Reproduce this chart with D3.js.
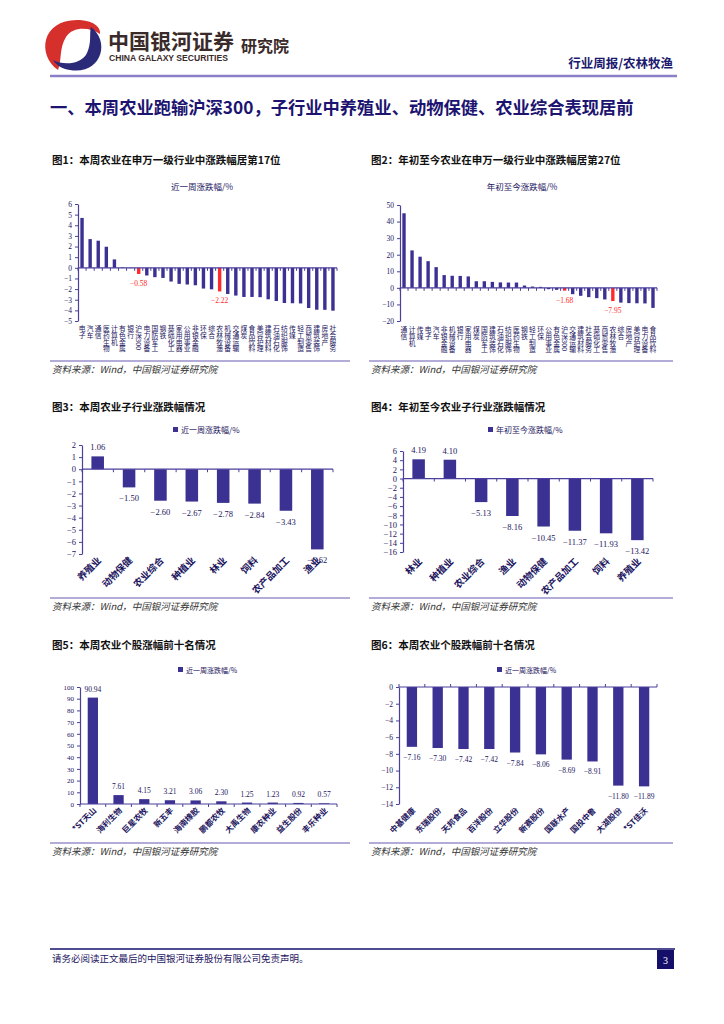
<!DOCTYPE html>
<html>
<head>
<meta charset="utf-8">
<script src="https://cdn.jsdelivr.net/npm/d3@7"></script>
<style>
  body { margin: 0; background: #fff; }
  svg { display: block; }
</style>
</head>
<body>
<svg width="724" height="1024"></svg>
<script>
// ---- data ----
// 图1 本周申万一级行业涨跌幅
const weekInd = ["电子","汽车","通信","医药生物","计算机","有色金属","银行","沪深300","电力设备","国防军工","钢铁","基础化工","家用电器","公用事业","非银金融","环保","综合","农林牧渔","机械设备","交通运输","煤炭","食品饮料","美容护理","建筑材料","石油石化","纺织服饰","传媒","轻工制造","商贸零售","建筑装饰","房地产","社会服务"];
const weekIndVal = [4.69,2.70,2.55,1.98,0.79,0.05,-0.03,-0.58,-0.72,-0.88,-0.95,-1.29,-1.51,-1.57,-1.64,-1.95,-2.02,-2.22,-2.46,-2.61,-2.74,-2.74,-2.76,-2.96,-3.12,-3.31,-3.33,-3.35,-3.78,-3.94,-3.95,-4.03];

// 图2 年初至今申万一级行业涨跌幅
const ytdInd = ["通信","计算机","传媒","电子","汽车","非银金融","机械设备","银行","家用电器","煤炭","国防军工","建筑装饰","石油石化","纺织服饰","医药生物","钢铁","轻工制造","环保","公用事业","有色金属","沪深300","交通运输","建筑材料","社会服务","基础化工","商贸零售","农林牧渔","综合","房地产","美容护理","电力设备","食品饮料"];
const ytdIndVal = [45.0,22.6,18.8,16.1,12.5,7.7,7.3,7.2,6.9,4.0,4.0,3.6,3.3,3.2,3.2,1.4,0.8,0.6,-0.8,-1.2,-1.68,-3.8,-4.8,-5.6,-6.2,-7.0,-7.95,-8.9,-9.2,-9.3,-9.4,-12.1];

const highlight = ["沪深300","农林牧渔"];

// 图3 / 图4 农业子行业
const subWeek = ["养殖业","动物保健","农业综合","种植业","林业","饲料","农产品加工","渔业"];
const subWeekVal = [1.06,-1.50,-2.60,-2.67,-2.78,-2.84,-3.43,-6.62];
const subYtd = ["林业","种植业","农业综合","渔业","动物保健","农产品加工","饲料","养殖业"];
const subYtdVal = [4.19,4.10,-5.13,-8.16,-10.45,-11.37,-11.93,-13.42];

// 图5 / 图6 个股涨跌幅前十
const upStocks = ["*ST天山","海利生物","巨星农牧","新五丰","海南橡胶","鹏都农牧","大禹生物","康农种业","益生股份","丰乐种业"];
const upVal = [90.94,7.61,4.15,3.21,3.06,2.30,1.25,1.23,0.92,0.57];
const downStocks = ["中基健康","东瑞股份","天邦食品","百洋股份","立华股份","新赛股份","国联水产","国投中鲁","大湖股份","*ST佳沃"];
const downVal = [-7.16,-7.30,-7.42,-7.42,-7.84,-8.06,-8.69,-8.91,-11.80,-11.89];

// ---- style ----
const BAR = "#3b3192", RED = "#ff2a2a", AX = "#4a3f9c", TXT = "#1c1560";
const CJK = "'Noto Sans CJK SC', sans-serif";
const NUM = "'Liberation Serif', 'DejaVu Serif', serif";
const minus = v => (v < 0 ? "\u2212" + Math.abs(v) : "" + v);
const minus2 = v => (v < 0 ? "\u2212" + Math.abs(v).toFixed(2) : v.toFixed(2));

const svg = d3.select("svg");

// ---- header ----
const logo = svg.append("g");
logo.append("path")
  .attr("d", "M58,70 C36,54 42,18 80,20 C95,21 101,28 100,34 C90,27 73,26 66,37 C59,48 62,60 58,70 Z")
  .attr("fill", "#d6302c");
logo.append("path")
  .attr("d", "M91,27 C111,42 101,75 70,70 C62,69 56,65 53,60 C64,66 82,64 87,53 C92,42 89,34 91,27 Z")
  .attr("fill", "#2b2a78");
logo.append("text").attr("x", 108).attr("y", 49)
  .style("font-family", CJK).style("font-weight", 700).style("font-size", "21px")
  .attr("fill", "#3a2a2a").text("中国银河证券");
logo.append("text").attr("x", 109).attr("y", 61)
  .style("font-family", "'Liberation Sans', Arial, sans-serif").style("font-weight", 700).style("font-size", "8.6px")
  .attr("fill", "#3a2a2a").text("CHINA GALAXY SECURITIES");
logo.append("text").attr("x", 241).attr("y", 52)
  .style("font-family", CJK).style("font-weight", 700).style("font-size", "16px")
  .attr("fill", "#3a2a2a").text("研究院");

svg.append("text").attr("x", 673).attr("y", 68).attr("text-anchor", "end")
  .style("font-family", CJK).style("font-weight", 700).style("font-size", "12.5px")
  .attr("fill", "#1c1a6e").text("行业周报/农林牧渔");
svg.append("line").attr("x1", 50).attr("x2", 677).attr("y1", 76).attr("y2", 76)
  .attr("stroke", "#8a80c8").attr("stroke-width", 2.5);

svg.append("text").attr("x", 50).attr("y", 114)
  .style("font-family", CJK).style("font-weight", 700).style("font-size", "17.3px")
  .attr("fill", "#1c1470")
  .text("一、本周农业跑输沪深300，子行业中养殖业、动物保健、农业综合表现居前");

// ---- captions and sources ----
function caption(x, y, t) {
  svg.append("text").attr("x", x).attr("y", y)
    .style("font-family", CJK).style("font-weight", 700).style("font-size", "10.5px")
    .attr("fill", "#111").text(t);
}
function source(x, y, w) {
  svg.append("line").attr("x1", x - 2).attr("x2", x - 2 + w).attr("y1", y - 8).attr("y2", y - 8)
    .attr("stroke", "#b3acd9").attr("stroke-width", 2);
  svg.append("text").attr("x", x).attr("y", y + 4)
    .style("font-family", CJK).style("font-style", "italic").style("font-size", "9.5px")
    .attr("fill", "#333").text("资料来源：Wind，中国银河证券研究院");
}
caption(52, 164, "图1：本周农业在申万一级行业中涨跌幅居第17位");
caption(371, 164, "图2：年初至今农业在申万一级行业中涨跌幅居第27位");
caption(52, 411, "图3：本周农业子行业涨跌幅情况");
caption(371, 411, "图4：年初至今农业子行业涨跌幅情况");
caption(52, 649, "图5：本周农业个股涨幅前十名情况");
caption(371, 649, "图6：本周农业个股跌幅前十名情况");
source(52, 369, 300);
source(371, 369, 304);
source(52, 606, 300);
source(371, 606, 304);
source(52, 851, 300);
source(371, 851, 304);

// ---- bar chart helper ----
function barChart(c) {
  const g = svg.append("g");
  const x = d3.scaleBand().domain(c.cats).range(c.xr)
    .paddingInner(c.pad).paddingOuter(c.pad / 2);
  const y = d3.scaleLinear().domain(c.dom).range(c.yr);

  g.append("g").attr("transform", `translate(${c.xr[0]},0)`)
    .call(d3.axisLeft(y).tickValues(c.ticks).tickSize(3).tickSizeOuter(0).tickPadding(3).tickFormat(minus))
    .call(a => {
      a.select(".domain").attr("stroke", AX).attr("stroke-width", 1.2);
      a.selectAll("line").attr("stroke", AX);
      a.selectAll("text").attr("fill", TXT).style("font-family", NUM).style("font-size", c.tickFont + "px");
    });

  g.selectAll("rect.bar").data(c.vals).join("rect").attr("class", "bar")
    .attr("x", (d, i) => x(c.cats[i]))
    .attr("width", x.bandwidth())
    .attr("y", d => y(Math.max(0, d)))
    .attr("height", d => Math.abs(y(d) - y(0)))
    .attr("fill", (d, i) => (c.hi && c.hi.includes(c.cats[i]) ? RED : BAR));

  // category axis along zero
  const y0 = y(0);
  g.append("line").attr("x1", c.xr[0]).attr("x2", c.xr[1]).attr("y1", y0).attr("y2", y0)
    .attr("stroke", AX).attr("stroke-width", 1.2);
  const bounds = d3.range(c.cats.length + 1).map(i => c.xr[0] + i * x.step());
  g.selectAll("line.tk").data(bounds).join("line").attr("class", "tk")
    .attr("x1", d => d).attr("x2", d => d)
    .attr("y1", y0).attr("y2", y0 + (c.tickDir || 3))
    .attr("stroke", AX);

  // value labels
  const lab = c.cats.map((k, i) => ({ k, v: c.vals[i] }))
    .filter(d => !c.labelOnly || c.labelOnly.includes(d.k));
  if (c.valueLabels) {
    g.selectAll("text.val").data(lab).join("text").attr("class", "val")
      .attr("x", d => x(d.k) + x.bandwidth() / 2)
      .attr("y", d => (d.v >= 0 ? y(d.v) - c.above : y(d.v) + c.below))
      .attr("text-anchor", "middle")
      .attr("fill", d => (c.labelColor ? c.labelColor : TXT))
      .style("font-family", NUM).style("font-size", c.valFont + "px")
      .text(d => minus2(d.v));
  }

  // category labels
  if (c.vertical) {
    g.selectAll("text.cat").data(c.cats).join("text").attr("class", "cat")
      .attr("x", d => x(d) + x.bandwidth() / 2)
      .attr("y", c.labelY)
      .style("writing-mode", "vertical-rl")
      .attr("fill", TXT)
      .style("font-family", CJK).style("font-size", c.catFont + "px")
      .text(d => d);
  } else {
    g.selectAll("text.cat").data(c.cats).join("text").attr("class", "cat")
      .attr("transform", d => `translate(${x(d) + x.bandwidth() / 2 + c.labelDx},${c.labelY}) rotate(-45)`)
      .attr("text-anchor", "end")
      .attr("fill", TXT)
      .style("font-family", CJK).style("font-weight", 700).style("font-size", c.catFont + "px")
      .text(d => d);
  }

  // title / legend
  if (c.title) {
    g.append("text").attr("x", c.title[1]).attr("y", c.title[2]).attr("text-anchor", "middle")
      .attr("fill", TXT).style("font-family", CJK).style("font-size", "8.5px").text(c.title[0]);
  }
  if (c.legend) {
    g.append("rect").attr("x", c.legend[1]).attr("y", c.legend[2] - 6).attr("width", 5).attr("height", 5).attr("fill", BAR);
    g.append("text").attr("x", c.legend[1] + 8).attr("y", c.legend[2])
      .attr("fill", TXT).style("font-family", CJK).style("font-size", c.legendFont + "px").text(c.legend[0]);
  }
}

barChart({
  cats: weekInd, vals: weekIndVal, hi: highlight,
  xr: [78, 337], yr: [321, 204], dom: [-5, 6], ticks: d3.range(-5, 7, 1),
  pad: 0.58, tickFont: 7.5, vertical: true, labelY: 325, catFont: 6.8,
  valueLabels: true, labelOnly: highlight, labelColor: RED, above: 4, below: 12, valFont: 7.5,
  title: ["近一周涨跌幅/%", 202, 190]
});

barChart({
  cats: ytdInd, vals: ytdIndVal, hi: highlight,
  xr: [400, 657], yr: [321, 205], dom: [-20, 50], ticks: d3.range(-20, 60, 10),
  pad: 0.58, tickFont: 7.5, vertical: true, labelY: 326, catFont: 6.8,
  valueLabels: true, labelOnly: highlight, labelColor: RED, above: 4, below: 12, valFont: 7.5,
  title: ["年初至今涨跌幅/%", 522, 190]
});

barChart({
  cats: subWeek, vals: subWeekVal,
  xr: [82, 333], yr: [554, 445], dom: [-7, 2], ticks: d3.range(-7, 3, 1),
  pad: 0.6, tickFont: 8.5, labelY: 561, labelDx: 4, catFont: 9.5,
  valueLabels: true, above: 6, below: 14, valFont: 8.5,
  legend: ["近一周涨跌幅/%", 173, 433], legendFont: 8
});

barChart({
  cats: subYtd, vals: subYtdVal,
  xr: [403, 653], yr: [552, 451], dom: [-16, 6], ticks: d3.range(-16, 8, 2),
  pad: 0.6, tickFont: 8.5, labelY: 562, labelDx: 4, catFont: 9.5,
  valueLabels: true, above: 6, below: 14, valFont: 8.5,
  legend: ["年初至今涨跌幅/%", 488, 433], legendFont: 8
});

barChart({
  cats: upStocks, vals: upVal,
  xr: [80, 337], yr: [804, 687], dom: [0, 100], ticks: d3.range(0, 110, 10),
  pad: 0.6, tickFont: 7, labelY: 811, labelDx: 4, catFont: 8,
  valueLabels: true, above: 6, below: 12, valFont: 7.5,
  legend: ["近一周涨跌幅/%", 178, 673], legendFont: 7
});

barChart({
  cats: downStocks, vals: downVal,
  xr: [399, 657], yr: [804, 687], dom: [-14, 0], ticks: d3.range(-14, 2, 2),
  pad: 0.6, tickFont: 7.5, labelY: 811, labelDx: 4, catFont: 8, tickDir: -3,
  valueLabels: true, above: 6, below: 13, valFont: 7.5,
  legend: ["近一周涨跌幅/%", 497, 673], legendFont: 7
});

// ---- footer ----
svg.append("line").attr("x1", 50).attr("x2", 675).attr("y1", 949).attr("y2", 949)
  .attr("stroke", "#14106a").attr("stroke-width", 1.5);
svg.append("text").attr("x", 52).attr("y", 962)
  .style("font-family", CJK).style("font-size", "9.5px").attr("fill", "#1c1560")
  .text("请务必阅读正文最后的中国银河证券股份有限公司免责声明。");
svg.append("rect").attr("x", 657).attr("y", 950).attr("width", 17).attr("height", 19).attr("fill", "#14106a");
svg.append("text").attr("x", 665.5).attr("y", 964).attr("text-anchor", "middle")
  .style("font-family", NUM).style("font-size", "10px").attr("fill", "#fff").text("3");
</script>
</body>
</html>
